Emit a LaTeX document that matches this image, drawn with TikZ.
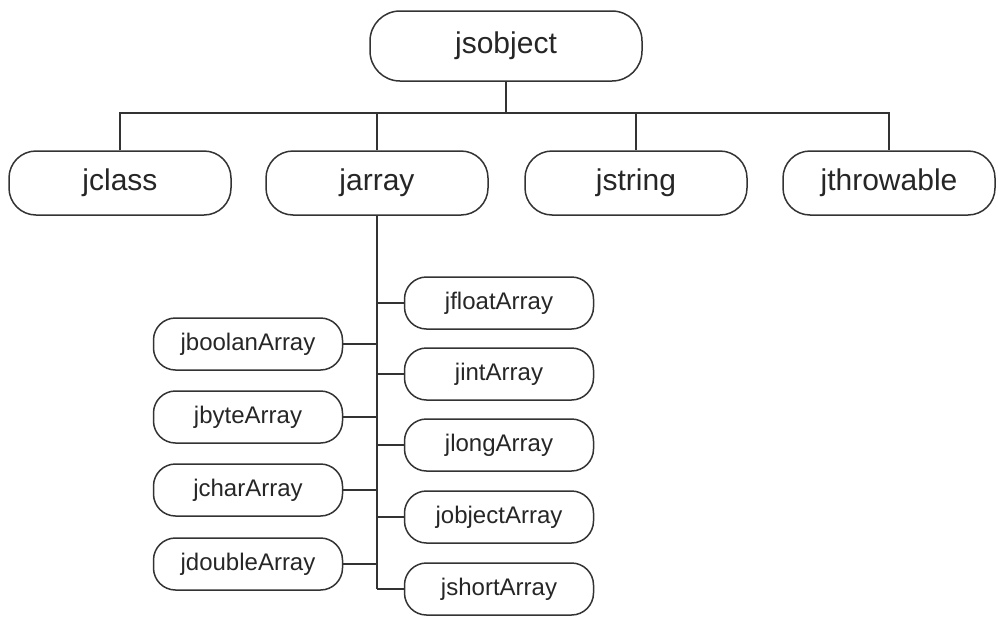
\documentclass[tikz,border=0pt]{standalone}
\usepackage{fontspec}
\setmainfont{Liberation Sans}
\begin{document}
\begin{tikzpicture}[x=1pt, y=-1pt, line width=1.5pt, draw=black!80,
	every node/.style={draw=black!80, rounded corners=27pt, text=black!85},
	big/.style={minimum width=222pt, minimum height=64pt, font=\fontsize{30}{34}\selectfont},
	small/.style={minimum width=189pt, minimum height=52pt, rounded corners=22pt, font=\fontsize{24}{28}\selectfont}]
	
	\useasboundingbox (0,0) rectangle (998,616);
	
	\node[big, minimum width=272pt, minimum height=70pt, rounded corners=30pt] (jsobject) at (506,46) {jsobject};
	\node[big] (jclass) at (120,183) {jclass};
	\node[big] (jarray) at (377,183) {jarray};
	\node[big] (jstring) at (636,183) {jstring};
	\node[big, minimum width=212pt] (jthrowable) at (889,183) {jthrowable};
	
	\node[small] (jfloat) at (499,303) {jfloatArray};
	\node[small] (jint) at (499,374) {jintArray};
	\node[small] (jlong) at (499,445) {jlongArray};
	\node[small] (jobject) at (499,517) {jobjectArray};
	\node[small] (jshort) at (499,589) {jshortArray};
	\node[small] (jboolan) at (248,344) {jboolanArray};
	\node[small] (jbyte) at (248,417) {jbyteArray};
	\node[small] (jchar) at (248,490) {jcharArray};
	\node[small] (jdouble) at (248,564) {jdoubleArray};
	
	\coordinate (bus) at (506,113);
	\draw (jsobject.south) -- (bus);
	\draw (jclass.north) |- (jthrowable.north |- bus) -- (jthrowable.north);
	\draw (jarray.north) -- (jarray.north |- bus);
	\draw (jstring.north) -- (jstring.north |- bus);
	
	\draw (jarray.south) -- (jarray.south |- jshort.west);
	\foreach \n in {jfloat,jint,jlong,jobject,jshort}
		\draw (\n.west) -- (\n.west -| jarray.south);
	\foreach \n in {jboolan,jbyte,jchar,jdouble}
		\draw (\n.east) -- (\n.east -| jarray.south);
	
\end{tikzpicture}
\end{document}
